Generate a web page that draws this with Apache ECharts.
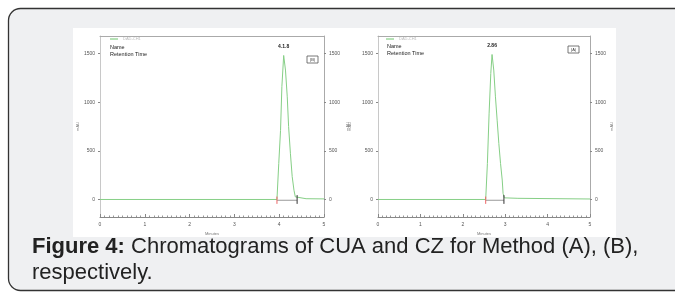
<!DOCTYPE html>
<html>
<head>
<meta charset="utf-8">
<script src="https://cdn.jsdelivr.net/npm/echarts@6/dist/echarts.min.js"></script>
<style>
  html, body { margin: 0; padding: 0; background: #fff; }
  #chart { width: 675px; height: 293px; }
</style>
</head>
<body>
<div id="chart"></div>
<script>
  // chromatogram B (CUA), [minutes, mAU]
  const traceB = [
    [0, 0], [3.95, 0], [3.99, 370], [4.03, 710], [4.06, 1160], [4.10, 1480],
    [4.14, 1330], [4.18, 1055], [4.21, 750], [4.25, 475], [4.29, 235],
    [4.33, 95], [4.36, 27], [4.40, 10], [4.6, 8], [5, 6]
  ];
  // chromatogram A (CZ)
  const traceA = [
    [0, 0], [2.54, 0], [2.58, 370], [2.62, 880], [2.66, 1295], [2.69, 1490],
    [2.73, 1330], [2.77, 1055], [2.81, 815], [2.85, 575], [2.89, 370],
    [2.93, 200], [2.95, 62], [2.98, 17], [3.3, 12], [5, 5]
  ];
  const peakStart = [3.95, 2.54];
  const peakEnd = [4.40, 2.97];
  const peakApex = [[4.10, 1480], [2.69, 1490]];
  const peakLabels = ["4.1.8", "2.86"];
  const panelTags = ["(B)", "(A)"];
  const yTicks = [0, 500, 1000, 1500];
  const seriesName = "DAD-CH1";

  const chart = echarts.init(document.getElementById("chart"));
  const font = "Liberation Sans, Arial, sans-serif";
  const green = "#86cf86";

  const grids = [
    { left: 100, top: 36, width: 224, height: 181 },
    { left: 378, top: 36, width: 212, height: 181 }
  ];

  const xAxis = [];
  const yAxis = [];
  const series = [];
  const legends = [];

  grids.forEach(function (g, i) {
    xAxis.push({
      gridIndex: i, type: "value", min: 0, max: 5, interval: 1,
      name: "Minutes", nameLocation: "middle", nameGap: 13,
      nameTextStyle: { fontSize: 4, color: "#777", fontFamily: font },
      axisLine: { onZero: false, lineStyle: { color: "#888", width: 1 } },
      axisTick: { inside: true, length: 3, lineStyle: { color: "#888" } },
      minorTick: { show: true, splitNumber: 10, length: 1.5, lineStyle: { color: "#999" } },
      axisLabel: { fontSize: 5, color: "#555", margin: 5, fontFamily: font },
      splitLine: { show: false }
    });
  });
  grids.forEach(function (g, i) {
    xAxis.push({
      gridIndex: i, type: "value", min: 0, max: 5, position: "top",
      axisLine: { onZero: false, lineStyle: { color: "#aaa", width: 1 } },
      axisTick: { show: false }, axisLabel: { show: false }, splitLine: { show: false }
    });
  });

  const nameGaps = [[20, 22], [26, 20]];
  grids.forEach(function (g, i) {
    ["left", "right"].forEach(function (pos, k) {
      yAxis.push({
        gridIndex: i, type: "value", min: -180, max: 1680, position: pos,
        name: "mAU", nameLocation: "middle", nameGap: nameGaps[i][k], nameRotate: 90,
        nameTextStyle: { fontSize: 4, color: "#777", fontFamily: font },
        axisLine: { show: true, onZero: false, lineStyle: { color: k === 0 ? "#c8c8c8" : "#aaa", width: 1 } },
        axisTick: { show: true, length: 2, customValues: yTicks, lineStyle: { color: "#888" } },
        axisLabel: {
          fontSize: 5, color: "#555", margin: 5, customValues: yTicks, fontFamily: font,
          formatter: function (v) { return String(v); }
        },
        splitLine: { show: false }
      });
    });
  });

  [traceB, traceA].forEach(function (trace, i) {
    series.push({
      name: seriesName, type: "line", xAxisIndex: i, yAxisIndex: i * 2,
      data: trace, showSymbol: false, smooth: false,
      lineStyle: { color: green, width: 1 }, itemStyle: { color: green },
      z: 3,
      markPoint: {
        symbol: "circle", symbolSize: 0,
        label: {
          show: true, position: "top", distance: 6, formatter: peakLabels[i],
          fontSize: 5, fontWeight: "bold", color: "#222", fontFamily: font
        },
        data: [{ coord: peakApex[i] }]
      }
    });
    series.push({
      type: "line", xAxisIndex: i, yAxisIndex: i * 2, showSymbol: false, silent: true,
      data: [[peakStart[i], -8], [peakEnd[i], -8]],
      lineStyle: { color: "#999", width: 1 }, z: 2
    });
    series.push({
      type: "line", xAxisIndex: i, yAxisIndex: i * 2, showSymbol: false, silent: true,
      data: [[peakStart[i], -45], [peakStart[i], 30]],
      lineStyle: { color: "#e66", width: 1 }, z: 4
    });
    series.push({
      type: "line", xAxisIndex: i, yAxisIndex: i * 2, showSymbol: false, silent: true,
      data: [[peakEnd[i], -45], [peakEnd[i], 45]],
      lineStyle: { color: "#333", width: 1 }, z: 4
    });
    legends.push({
      left: i === 0 ? 110 : 386, top: 37, data: [seriesName],
      icon: "rect", itemWidth: 8, itemHeight: 1.2, itemGap: 2,
      textStyle: { fontSize: 4, color: "#bbb", fontFamily: font }, padding: 0
    });
  });

  const graphic = [
    {
      type: "rect", z: -20, silent: true,
      shape: { x: 8.5, y: 8.5, width: 690, height: 282, r: 12 },
      style: { fill: "#eff0f2", stroke: "#333", lineWidth: 1.3 }
    },
    {
      type: "rect", z: -10, silent: true,
      shape: { x: 73, y: 28, width: 543, height: 209 },
      style: { fill: "#fff" }
    }
  ];
  const textPos = [[110, 44], [387, 43]];
  textPos.forEach(function (p) {
    graphic.push({
      type: "text", left: p[0], top: p[1], silent: true,
      style: { text: "Name\nRetention Time", fontSize: 5.5, lineHeight: 7, fill: "#222", fontFamily: font }
    });
  });
  const tagBox = [[307, 56], [568, 46]];
  tagBox.forEach(function (p, i) {
    graphic.push({
      type: "rect", silent: true,
      shape: { x: p[0], y: p[1], width: 11, height: 7 },
      style: { fill: "#fff", stroke: "#555", lineWidth: 0.8 }
    });
    graphic.push({
      type: "text", silent: true, x: p[0] + 5.5, y: p[1] + 3.5,
      style: { text: panelTags[i], fontSize: 4, fill: "#333", align: "center", verticalAlign: "middle", fontFamily: font }
    });
  });
  graphic.push({
    type: "text", silent: true, x: 32, y: 247,
    style: {
      text: "{b|Figure 4:} Chromatograms of CUA and CZ for Method (A), (B),",
      verticalAlign: "middle", fontSize: 22, fill: "#222", fontFamily: font,
      rich: { b: { fontWeight: "bold", fontSize: 22, fill: "#222", fontFamily: font } }
    }
  });
  graphic.push({
    type: "text", silent: true, x: 32, y: 273,
    style: { text: "respectively.", verticalAlign: "middle", fontSize: 22, fill: "#222", fontFamily: font }
  });

  chart.setOption({
    animation: false,
    backgroundColor: "#fff",
    grid: grids,
    xAxis: xAxis,
    yAxis: yAxis,
    legend: legends,
    series: series,
    graphic: graphic
  });
</script>
</body>
</html>
